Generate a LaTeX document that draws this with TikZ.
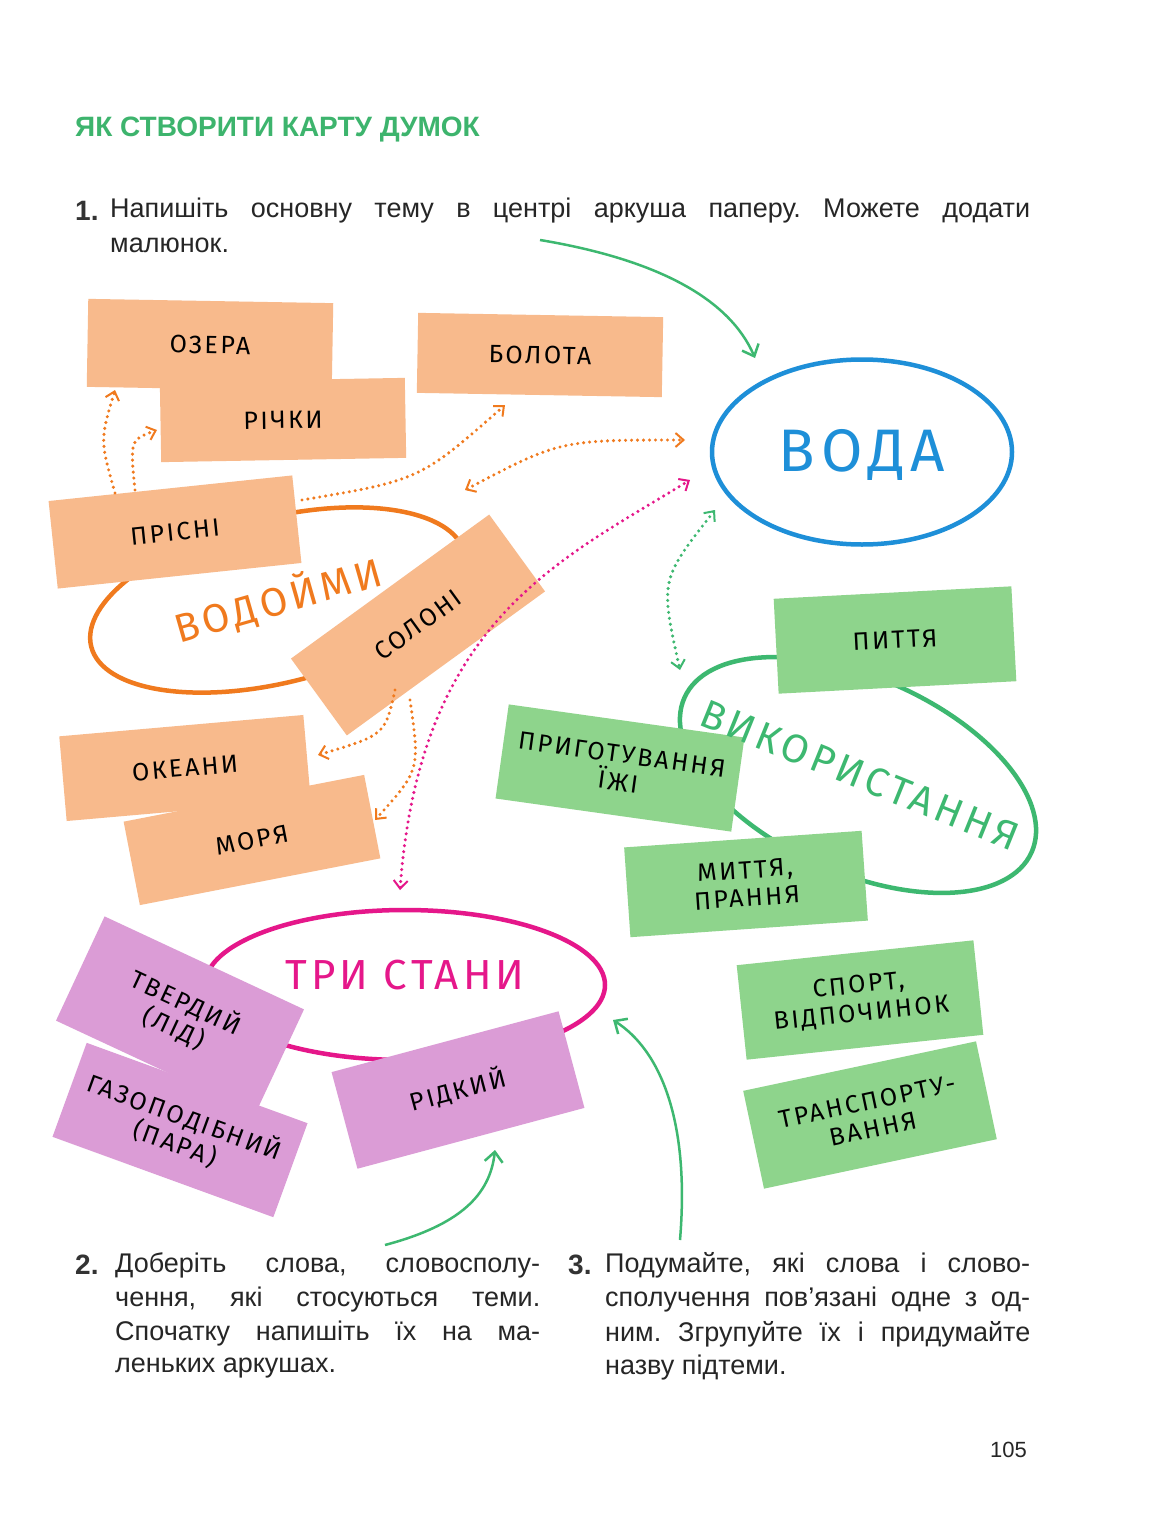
\documentclass[tikz,border=0pt]{standalone}
\usepackage{fontspec}
\setmainfont{Liberation Sans}
\newfontfamily\hand[LetterSpace=10]{Fira Sans}
\usetikzlibrary{shapes.geometric,arrows.meta}
\definecolor{tgreen}{HTML}{3DB46D}
\definecolor{onote}{HTML}{F8BA8C}
\definecolor{gnote}{HTML}{8ED48C}
\definecolor{pnote}{HTML}{DB9CD6}
\definecolor{cblue}{HTML}{1E8FD8}
\definecolor{corange}{HTML}{F07A1E}
\definecolor{cgreen}{HTML}{3DB870}
\definecolor{cpink}{HTML}{E5178A}
\begin{document}
\frenchspacing
\begin{tikzpicture}[x=1pt,y=-1pt,
 note/.style={minimum width=245pt,minimum height=88pt,inner sep=0pt,align=center,font=\hand\fontsize{25}{28}\selectfont,text=black},
 on/.style={note,fill=onote},
 gn/.style={note,fill=gnote},
 pn/.style={note,fill=pnote},
 ell/.style={ellipse,draw,line width=4.5pt,inner sep=0pt},
 lab/.style={font=\hand\fontsize{#1}{#1}\selectfont},
 dots/.style={line width=3.4pt,dash pattern=on 0pt off 6pt,line cap=round,-{Straight Barb[length=8pt,width=14pt,line width=2pt]}},
 ddots/.style={dots,{Straight Barb[length=8pt,width=14pt,line width=2pt]}-{Straight Barb[length=8pt,width=14pt,line width=2pt]}},
 garr/.style={cgreen,line width=2.5pt,-{Straight Barb[length=10pt,width=18pt,line width=2.5pt]}},
 body/.style={anchor=west,inner sep=0pt,font=\fontsize{27}{30}\selectfont,text=black!85},
 num/.style={anchor=west,inner sep=0pt,font=\bfseries\fontsize{28}{30}\selectfont,text=black!80}]
\useasboundingbox (0,0) rectangle (1162,1530);
\fill[white] (0,0) rectangle (1162,1530);
% title
\node[anchor=west,inner sep=0,text=tgreen,font=\bfseries\fontsize{28}{30}\selectfont] (title) at (75,130) {ЯК СТВОРИТИ КАРТУ ДУМОК};
\node[num] (n1) at (75,211) {1.};
\node[body] (t1a) at (110,211) {\makebox[920pt][s]{Напишіть основну тему в центрі аркуша паперу. Можете додати}};
\node[body] (t1b) at (110,245) {малюнок.};
% ellipses
\node[ell,draw=cblue,minimum width=300pt,minimum height=185pt] (voda) at (862,452) {};
\node[ell,draw=corange,minimum width=385pt,minimum height=165pt,rotate=14] (vod) at (278,600) {};
\node[ell,draw=cgreen,minimum width=380pt,minimum height=195pt,rotate=-24] (vyk) at (858,775) {};
\node[ell,draw=cpink,minimum width=400pt,minimum height=150pt] (try) at (405,985) {};
% orange notes
\node[on,rotate=-1] (ozera) at (210,345) {ОЗЕРА};
\node[on,rotate=-1,minimum height=80pt] (bolota) at (540,355) {БОЛОТА};
\node[on,rotate=1,minimum height=80pt] (richky) at (283,420) {РІЧКИ};
\node[on,rotate=6] (prisni) at (175,532) {ПРІСНІ};
\node[on,rotate=36,minimum height=95pt] (soloni) at (418,625) {СОЛОНІ};
\node[on,rotate=5,minimum height=85pt] (okeany) at (185,768) {ОКЕАНИ};
\node[on,rotate=11,minimum height=85pt] (morya) at (252,840) {МОРЯ};
% green notes
\node[gn,rotate=3,minimum width=238pt,minimum height=95pt] (pyttya) at (895,640) {ПИТТЯ};
\node[gn,rotate=-8,minimum width=238pt,minimum height=95pt] (pryh) at (620,768) {ПРИГОТУВАННЯ\\ЇЖІ};
\node[gn,rotate=4,minimum width=238pt,minimum height=90pt] (myttya) at (746,884) {МИТТЯ,\\ПРАННЯ};
\node[gn,rotate=6,minimum width=238pt,minimum height=95pt] (sport) at (860,1000) {СПОРТ,\\ВІДПОЧИНОК};
\node[gn,rotate=12,minimum width=238pt,minimum height=100pt] (trans) at (870,1115) {ТРАНСПОРТУ-\\ВАННЯ};
% pink notes
\node[pn,rotate=-25,minimum width=220pt,minimum height=115pt] (tverd) at (180,1015) {ТВЕРДИЙ\\(ЛІД)};
\node[pn,rotate=-20,minimum width=235pt,minimum height=100pt] (gaz) at (180,1130) {ГАЗОПОДІБНИЙ\\(ПАРА)};
\node[pn,rotate=15,minimum width=235pt,minimum height=100pt] (ridk) at (458,1090) {РІДКИЙ};
% ellipse labels
\node[lab=60,text=cblue] (vodaT) at (862,455) {ВОДА};
\node[lab=40,text=corange,rotate=16] (vodT) at (278,600) {ВОДОЙМИ};
\node[lab=40,text=cgreen,rotate=-22] (vykT) at (860,775) {ВИКОРИСТАННЯ};
\node[lab=42,text=cpink] (tryT) at (405,975) {ТРИ СТАНИ};
% dotted connectors
\coordinate (p1) at (115,493); \coordinate (p1e) at (115,390);
\coordinate (p2) at (135,490); \coordinate (p2e) at (157,430);
\coordinate (p3) at (302,500); \coordinate (p3e) at (505,405);
\coordinate (v1) at (465,490); \coordinate (v1e) at (685,440);
\coordinate (s1) at (395,690); \coordinate (s1e) at (318,755);
\coordinate (s2) at (410,700); \coordinate (s2e) at (375,820);
\coordinate (k1) at (400,890); \coordinate (k1e) at (690,480);
\coordinate (g1) at (715,510); \coordinate (g1e) at (680,670);
\draw[dots,corange] (p1) .. controls (100,440) .. (p1e);
\draw[dots,corange] (p2) .. controls (130,440) .. (p2e);
\draw[dots,corange] (p3) .. controls (420,480) .. (p3e);
\draw[ddots,corange] (v1) .. controls (560,440) .. (v1e);
\draw[dots,corange] (s1) .. controls (385,735) .. (s1e);
\draw[dots,corange] (s2) .. controls (420,770) .. (s2e);
\draw[ddots,cpink] (k1) .. controls (420,620) and (560,560) .. (k1e);
\draw[ddots,cgreen] (g1) .. controls (660,580) .. (g1e);
% green arrows
\coordinate (a1) at (540,240); \coordinate (a1e) at (755,358);
\coordinate (a2) at (385,1245); \coordinate (a2e) at (495,1150);
\coordinate (a3) at (680,1240); \coordinate (a3e) at (613,1020);
\draw[garr] (a1) .. controls (660,260) and (730,300) .. (a1e);
\draw[garr] (a2) .. controls (460,1225) and (490,1195) .. (a2e);
\draw[garr] (a3) .. controls (690,1120) and (660,1050) .. (a3e);
% paragraph 2
\node[num] (n2) at (75,1265) {2.};
\node[body] (t2a) at (115,1265) {\makebox[425pt][s]{Доберіть слова, словосполу-}};
\node[body] (t2b) at (115,1300) {\makebox[425pt][s]{чення, які стосуються теми.}};
\node[body] (t2c) at (115,1334) {\makebox[425pt][s]{Спочатку напишіть їх на ма-}};
\node[body] (t2d) at (115,1368) {леньких аркушах.};
% paragraph 3
\node[num] (n3) at (568,1265) {3.};
\node[body] (t3a) at (605,1265) {\makebox[425pt][s]{Подумайте, які слова і слово-}};
\node[body] (t3b) at (605,1300) {\makebox[425pt][s]{сполучення пов’язані одне з од-}};
\node[body] (t3c) at (605,1334) {\makebox[425pt][s]{ним. Згрупуйте їх і придумайте}};
\node[body] (t3d) at (605,1368) {назву підтеми.};
\node[body,font=\fontsize{22}{26}\selectfont] (pg) at (990,1450) {105};
\end{tikzpicture}
\end{document}
